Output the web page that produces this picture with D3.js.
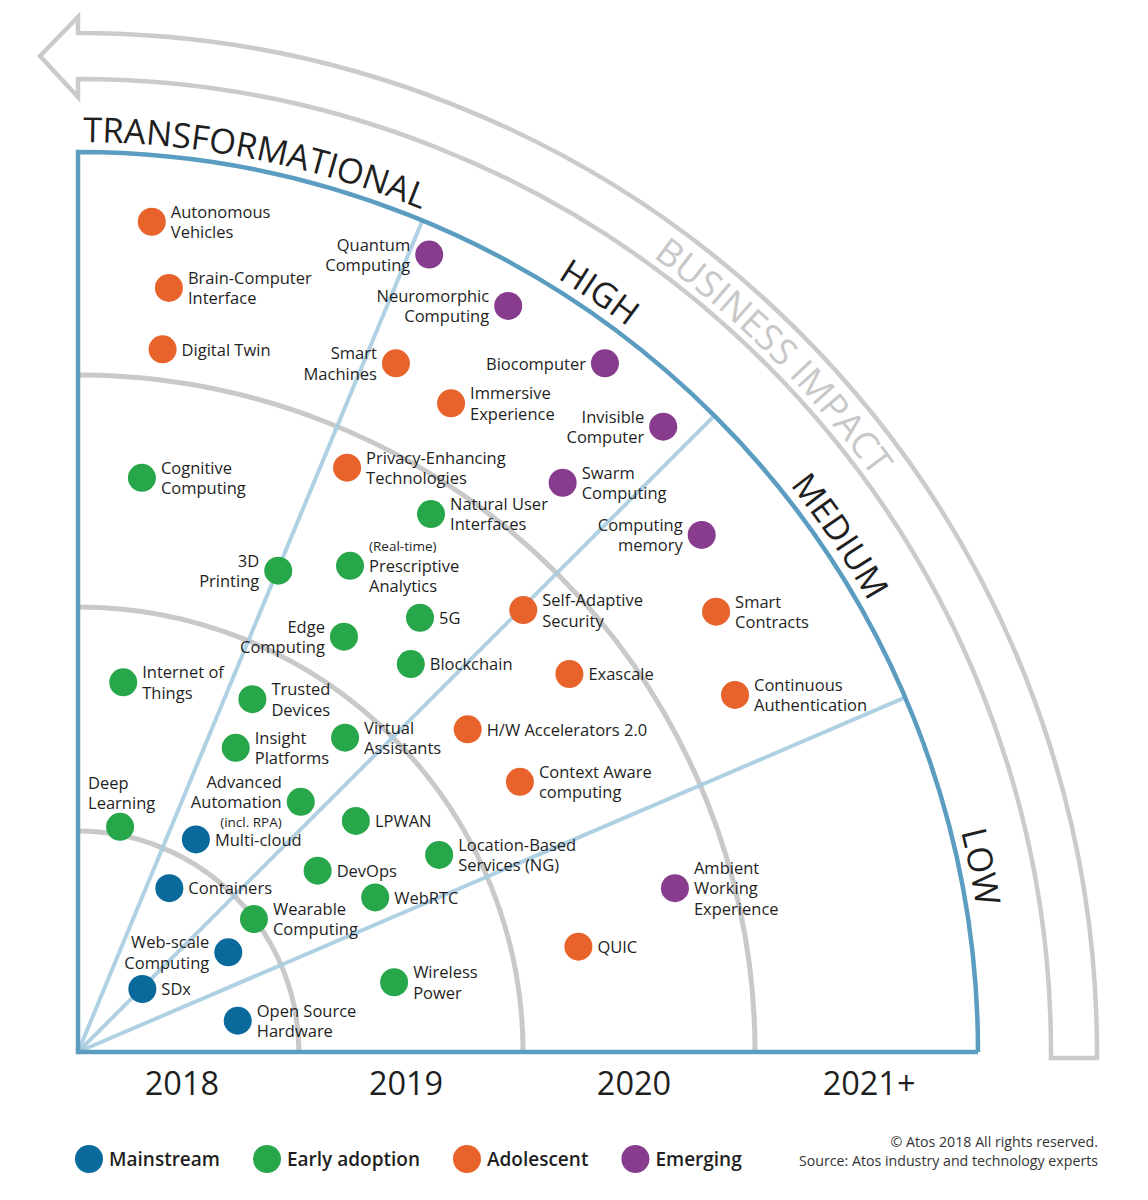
<!DOCTYPE html>
<html><head><meta charset="utf-8">
<script src="https://cdn.jsdelivr.net/npm/d3@7"></script>
<style>body{margin:0;background:#fff;} svg{display:block;font-family:'Open Sans',sans-serif;}</style>
</head><body><svg id="c" width="1148" height="1200"></svg>
<script>
// ---------- DATA ----------
const stages = ["Mainstream", "Early adoption", "Adolescent", "Emerging"];
const stageColors = ["#0a6a9b", "#27a74a", "#e8632b", "#883c8e"];
const yearLabels = ["2018", "2019", "2020", "2021+"];
const yearTicks = [0.462, 1.458, 2.471, 3.516];          // time-axis positions of the year labels
const ringBreaks = [0.982, 1.978, 3.009];                // year ring boundaries (outer edge = 4)
const impactLabels = ["LOW", "MEDIUM", "HIGH", "TRANSFORMATIONAL"];
const impactBreaks = [0, 23.2, 45, 67.5, 90];            // degrees
const technologies = [
  {name:"Autonomous\nVehicles", stage:"Adolescent", x:0.328, y:3.690},
  {name:"Brain-Computer\nInterface", stage:"Adolescent", x:0.404, y:3.396},
  {name:"Digital Twin", stage:"Adolescent", x:0.376, y:3.123},
  {name:"Quantum\nComputing", stage:"Emerging", x:1.561, y:3.544},
  {name:"Neuromorphic\nComputing", stage:"Emerging", x:1.912, y:3.316},
  {name:"Smart\nMachines", stage:"Adolescent", x:1.413, y:3.061},
  {name:"Biocomputer", stage:"Emerging", x:2.342, y:3.061},
  {name:"Immersive\nExperience", stage:"Adolescent", x:1.658, y:2.883},
  {name:"Invisible\nComputer", stage:"Emerging", x:2.601, y:2.779},
  {name:"Cognitive\nComputing", stage:"Early adoption", x:0.284, y:2.552},
  {name:"Privacy-Enhancing\nTechnologies", stage:"Adolescent", x:1.196, y:2.597},
  {name:"Swarm\nComputing", stage:"Emerging", x:2.154, y:2.530},
  {name:"Natural User\nInterfaces", stage:"Early adoption", x:1.569, y:2.391},
  {name:"Computing\nmemory", stage:"Emerging", x:2.772, y:2.298},
  {name:"3D\nPrinting", stage:"Early adoption", x:0.890, y:2.139},
  {name:"(Real-time)\nPrescriptive\nAnalytics", stage:"Early adoption", x:1.209, y:2.161},
  {name:"5G", stage:"Early adoption", x:1.520, y:1.930},
  {name:"Edge\nComputing", stage:"Early adoption", x:1.182, y:1.846},
  {name:"Blockchain", stage:"Early adoption", x:1.479, y:1.724},
  {name:"Self-Adaptive\nSecurity", stage:"Adolescent", x:1.979, y:1.964},
  {name:"Smart\nContracts", stage:"Adolescent", x:2.836, y:1.957},
  {name:"Exascale", stage:"Adolescent", x:2.184, y:1.680},
  {name:"Continuous\nAuthentication", stage:"Adolescent", x:2.920, y:1.587},
  {name:"Internet of\nThings", stage:"Early adoption", x:0.201, y:1.643},
  {name:"Trusted\nDevices", stage:"Early adoption", x:0.775, y:1.568},
  {name:"Virtual\nAssistants", stage:"Early adoption", x:1.187, y:1.397},
  {name:"H/W Accelerators 2.0", stage:"Adolescent", x:1.732, y:1.434},
  {name:"Insight\nPlatforms", stage:"Early adoption", x:0.701, y:1.352},
  {name:"Context Aware\ncomputing", stage:"Adolescent", x:1.964, y:1.201},
  {name:"Advanced\nAutomation\n(incl. RPA)", stage:"Early adoption", x:0.990, y:1.112},
  {name:"Deep\nLearning", stage:"Early adoption", x:0.187, y:1.001},
  {name:"Multi-cloud", stage:"Mainstream", x:0.524, y:0.945},
  {name:"LPWAN", stage:"Early adoption", x:1.235, y:1.027},
  {name:"Location-Based\nServices (NG)", stage:"Early adoption", x:1.605, y:0.876},
  {name:"DevOps", stage:"Early adoption", x:1.065, y:0.806},
  {name:"Containers", stage:"Mainstream", x:0.406, y:0.728},
  {name:"WebRTC", stage:"Early adoption", x:1.321, y:0.687},
  {name:"Ambient\nWorking\nExperience", stage:"Emerging", x:2.653, y:0.728},
  {name:"Wearable\nComputing", stage:"Early adoption", x:0.782, y:0.591},
  {name:"Web-scale\nComputing", stage:"Mainstream", x:0.668, y:0.443},
  {name:"QUIC", stage:"Adolescent", x:2.224, y:0.468},
  {name:"SDx", stage:"Mainstream", x:0.286, y:0.280},
  {name:"Wireless\nPower", stage:"Early adoption", x:1.405, y:0.310},
  {name:"Open Source\nHardware", stage:"Mainstream", x:0.710, y:0.139}
];
const labelsLeft = ["Quantum\nComputing","Neuromorphic\nComputing","Smart\nMachines","Biocomputer",
  "Invisible\nComputer","Computing\nmemory","3D\nPrinting","Edge\nComputing",
  "Advanced\nAutomation\n(incl. RPA)","Web-scale\nComputing"];
const labelsAbove = ["Deep\nLearning"];
const copyright = ["© Atos 2018 All rights reserved.", "Source: Atos industry and technology experts"];

// ---------- DRAW ----------
const svg = d3.select("#c");
const O = {x:78, y:1052};
const R = 900;
const rScale = d3.scaleLinear().domain([0,4]).range([0,R]);
const xScale = d3.scaleLinear().domain([0,4]).range([O.x, O.x+R]);
const yScale = d3.scaleLinear().domain([0,4]).range([O.y, O.y-R]);
const aScale = d3.scaleLinear().domain([0,90]).range([0,Math.PI/2]);
const color = d3.scaleOrdinal().domain(stages).range(stageColors);
const ink = "#1f1f1f";

function quarterArc(rad){
  const p = d3.path();
  p.moveTo(O.x, O.y-rad);
  p.arc(O.x, O.y, rad, -Math.PI/2, 0, false);
  return p.toString();
}

// grey arrow band
(function(){
  const bi = 973, bo = 1019;
  const p = d3.path();
  p.moveTo(O.x+bi, O.y+6);
  p.lineTo(O.x+bi, O.y);
  p.arc(O.x, O.y, bi, 0, -Math.PI/2, true);
  p.lineTo(O.x, O.y-bi+18);
  p.lineTo(O.x-38, O.y-(bi+bo)/2);
  p.lineTo(O.x, O.y-bo-16);
  p.lineTo(O.x, O.y-bo);
  p.arc(O.x, O.y, bo, -Math.PI/2, 0, false);
  p.lineTo(O.x+bo, O.y+6);
  p.closePath();
  svg.append("path").attr("d", p.toString()).attr("fill","none")
    .attr("stroke","#cbcbcb").attr("stroke-width",4.5).attr("stroke-linejoin","miter");
})();

const defs = svg.append("defs");
defs.append("path").attr("id","biPath").attr("d", quarterArc(981));
defs.append("path").attr("id","impPath").attr("d", quarterArc(910));

svg.append("text").attr("font-size",37).attr("fill","#c8c8c8")
  .append("textPath").attr("href","#biPath").attr("startOffset","50%").attr("text-anchor","middle")
  .text("BUSINESS IMPACT");

// year rings
svg.append("g").selectAll("path").data(ringBreaks).join("path")
  .attr("d", d => quarterArc(rScale(d)))
  .attr("fill","none").attr("stroke","#c9c9c9").attr("stroke-width",5);

// impact separators
svg.append("g").selectAll("line").data(impactBreaks.slice(1,-1)).join("line")
  .attr("x1", O.x).attr("y1", O.y)
  .attr("x2", d => O.x + R*Math.cos(aScale(d)))
  .attr("y2", d => O.y - R*Math.sin(aScale(d)))
  .attr("stroke","#a6cce0").attr("stroke-width",4).attr("stroke-opacity",0.9);

// frame
(function(){
  const p = d3.path();
  p.moveTo(O.x+R, O.y);
  p.lineTo(O.x, O.y);
  p.lineTo(O.x, O.y-R);
  p.arc(O.x, O.y, R, -Math.PI/2, 0, false);
  svg.append("path").attr("d", p.toString()).attr("fill","none")
    .attr("stroke","#5a9dc0").attr("stroke-width",4.5).attr("stroke-linejoin","miter");
})();

// impact labels
svg.append("g").selectAll("text").data(impactLabels).join("text")
  .attr("font-size",34.5).attr("fill",ink)
  .append("textPath").attr("href","#impPath").attr("text-anchor","middle")
  .attr("startOffset", (d,i) => ((90 - (impactBreaks[i]+impactBreaks[i+1])/2)/90*100 + (i===2 ? 0.8 : 0)) + "%")
  .text(d => d);

// year labels
svg.append("g").selectAll("text").data(yearLabels).join("text")
  .attr("x", (d,i) => xScale(yearTicks[i])).attr("y", 1095)
  .attr("text-anchor","middle").attr("font-size",32.5).attr("fill",ink)
  .text(d => d);

// technologies
const lh = 20.3;
const tg = svg.append("g").selectAll("g").data(technologies).join("g")
  .attr("transform", d => `translate(${xScale(d.x)},${yScale(d.y)})`);
tg.append("circle").attr("r",14).attr("fill", d => color(d.stage));
tg.each(function(d){
  const lines = d.name.split("\n");
  const side = labelsLeft.includes(d.name) ? "left" : (labelsAbove.includes(d.name) ? "above" : "right");
  const x0 = side === "left" ? -19 : (side === "above" ? -32 : 19);
  const yc = side === "above" ? -34 : 0;
  const t = d3.select(this).append("text")
    .attr("text-anchor", side === "left" ? "end" : "start").attr("fill", ink);
  lines.forEach((ln, i) => {
    const fs = ln.startsWith("(") ? 13.5 : 16.5;
    t.append("tspan").attr("x", x0)
      .attr("y", yc + (i - (lines.length-1)/2)*lh + fs*0.38)
      .attr("font-size", fs).text(ln);
  });
});

// legend
const lg = svg.append("g");
let lx = 89;
stages.forEach((s, i) => {
  lg.append("circle").attr("cx", lx).attr("cy", 1159).attr("r", 14).attr("fill", stageColors[i]);
  const t = lg.append("text").attr("x", lx + 20).attr("y", 1166).attr("font-size", 19)
    .attr("font-weight", 600).attr("fill", ink).text(s);
  lx = lx + 20 + t.node().getComputedTextLength() + 47;
});

// copyright
svg.append("g").selectAll("text").data(copyright).join("text")
  .attr("x", 1098).attr("y", (d,i) => 1147 + i*19)
  .attr("text-anchor","end").attr("font-size",14.2).attr("fill","#333").text(d => d);
</script>
</body></html>
